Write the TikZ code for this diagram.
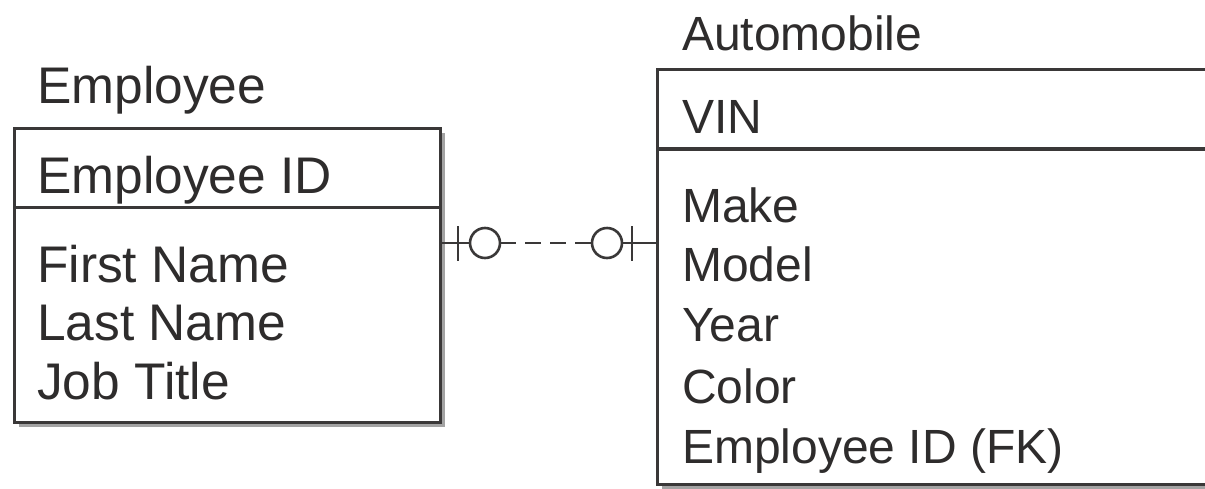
\documentclass[tikz,border=0pt]{standalone}
\usepackage{fontspec}
\setmainfont{Liberation Sans}
\usetikzlibrary{shadows}
\definecolor{ink}{HTML}{3A3838}
\definecolor{txt}{HTML}{2E2C2C}
\begin{document}
\begin{tikzpicture}[x=1pt,y=-1pt,
  entbox/.style={draw=ink, line width=3pt, fill=white, anchor=north west, inner sep=0pt,
    drop shadow={shadow xshift=4pt, shadow yshift=-4pt, fill=black!45, opacity=0.8}},
  ltxt/.style={anchor=base west, inner sep=0pt, text=txt, font=\fontsize{51.5}{60}\selectfont},
  rtxt/.style={anchor=base west, inner sep=0pt, text=txt, font=\fontsize{48}{58}\selectfont},
  divider/.style={draw=ink, line width=3pt},
  conn/.style={draw=ink, line width=2.6pt},
  optcircle/.style={draw=ink, line width=2.6pt, fill=white}]
\clip (0,0) rectangle (1205,488);
\fill[white] (0,0) rectangle (1205,488);

% Employee entity
\node[ltxt] (empt) at (37,103) {Employee};
\node[entbox, minimum width=426pt, minimum height=294pt] (emp) at (13,127) {};
\draw[divider] (emp.west |- 0,207) coordinate (ed1) -- (emp.east |- 0,207) coordinate (ed2);
\node[ltxt] (epk) at (37,193) {Employee ID};
\node[ltxt] (ea1) at (37,282) {First Name};
\node[ltxt] (ea2) at (37,340) {Last Name};
\node[ltxt] (ea3) at (37,399) {Job Title};

% Automobile entity
\node[rtxt] (autot) at (682,50) {Automobile};
\node[entbox, minimum width=620pt, minimum height=415pt] (auto) at (656,68) {};
\draw[divider, line width=4.5pt] (auto.west |- 0,149) coordinate (ad1) -- (auto.east |- 0,149) coordinate (ad2);
\node[rtxt] (apk) at (682,133) {VIN};
\node[rtxt] (aa1) at (682,222) {Make};
\node[rtxt] (aa2) at (682,281) {Model};
\node[rtxt] (aa3) at (682,341) {Year};
\node[rtxt] (aa4) at (682,403) {Color};
\node[rtxt] (aa5) at (682,463) {Employee ID (FK)};

% Relationship: zero-or-one to zero-or-one, non-identifying (dashed)
\coordinate (ce) at (emp.east |- 0,243);
\coordinate (ca) at (auto.west |- 0,243);
\coordinate (o1) at (485,243);
\coordinate (o2) at (607,243);
\draw[conn] (ce) -- (o1);
\draw[conn] (o2) -- (ca);
\draw[conn, dash pattern=on 16pt off 9pt] (500,243) -- (592,243);
\draw[optcircle] (o1) circle (15pt);
\draw[optcircle] (o2) circle (15pt);
\draw[conn] ([shift={(-27,-17)}]o1) -- ([shift={(-27,18)}]o1);
\draw[conn] ([shift={(25,-17)}]o2) -- ([shift={(25,18)}]o2);
\end{tikzpicture}
\end{document}
